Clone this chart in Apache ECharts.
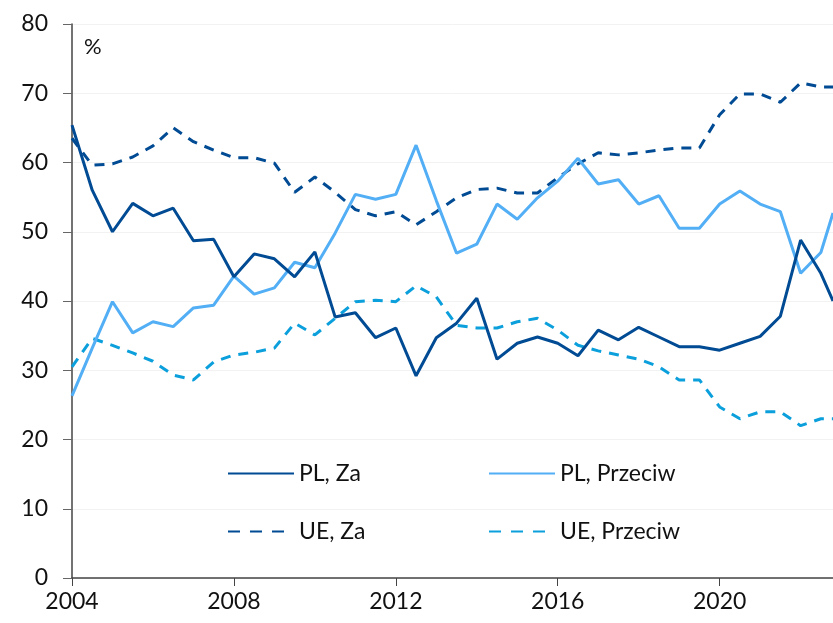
<!DOCTYPE html>
<html>
<head>
<meta charset="utf-8">
<script src="https://cdn.jsdelivr.net/npm/echarts@6/dist/echarts.min.js"></script>
<style>
  html, body { margin: 0; padding: 0; background: #fff; }
  #main { width: 833px; height: 623px; }
</style>
</head>
<body>
<div id="main"></div>
<script>
// polroczne odczyty, ostatni punkt na krawedzi wykresu
var years = [2004, 2004.5, 2005, 2005.5, 2006, 2006.5, 2007, 2007.5, 2008, 2008.5,
  2009, 2009.5, 2010, 2010.5, 2011, 2011.5, 2012, 2012.5, 2013, 2013.5,
  2014, 2014.5, 2015, 2015.5, 2016, 2016.5, 2017, 2017.5, 2018, 2018.5,
  2019, 2019.5, 2020, 2020.5, 2021, 2021.5, 2022, 2022.5, 2022.8];

var plZa = [65.4, 56.0, 50.0, 54.1, 52.3, 53.4, 48.7, 48.9, 43.5, 46.8,
  46.1, 43.5, 47.1, 37.7, 38.3, 34.7, 36.1, 29.2, 34.7, 36.8,
  40.4, 31.6, 33.9, 34.8, 33.9, 32.1, 35.8, 34.4, 36.2, 34.8,
  33.4, 33.4, 32.9, 33.9, 34.9, 37.8, 48.8, 44.0, 40.0];

var plPrzeciw = [26.3, 33.2, 39.9, 35.4, 37.0, 36.3, 39.0, 39.4, 43.6, 41.0,
  41.9, 45.6, 44.8, 49.8, 55.4, 54.7, 55.4, 62.5, 54.5, 46.9,
  48.2, 54.0, 51.8, 54.9, 57.3, 60.6, 56.9, 57.5, 54.0, 55.2,
  50.5, 50.5, 54.0, 55.9, 54.0, 52.9, 44.0, 47.0, 52.7];

var ueZa = [63.5, 59.6, 59.8, 60.8, 62.4, 65.0, 63.0, 61.8, 60.7, 60.7,
  59.9, 55.7, 57.9, 55.7, 53.2, 52.3, 52.9, 51.0, 52.9, 54.9,
  56.1, 56.3, 55.6, 55.6, 57.8, 59.8, 61.4, 61.1, 61.4, 61.8,
  62.1, 62.1, 66.9, 69.9, 69.9, 68.7, 71.5, 70.9, 70.9];

var uePrzeciw = [30.5, 34.6, 33.6, 32.5, 31.3, 29.3, 28.6, 31.2, 32.2, 32.6,
  33.2, 36.8, 35.1, 37.5, 39.9, 40.1, 39.9, 42.2, 40.6, 36.5,
  36.1, 36.1, 37.0, 37.5, 35.8, 33.6, 32.8, 32.2, 31.6, 30.5,
  28.6, 28.6, 24.7, 23.0, 24.0, 24.0, 22.0, 23.0, 23.0];

var yearTicks = [2004, 2008, 2012, 2016, 2020];

function pairs(vals) {
  return vals.map(function (v, i) { return [years[i], v]; });
}

var darkBlue = '#004b93';
var lightBlue = '#52aef5';
var cyan = '#0b9fdc';
var font = 'Lato, "Open Sans", sans-serif';

function legendAt(name, left, top, dashed) {
  return {
    data: [name],
    left: left,
    top: top,
    itemWidth: 66,
    itemHeight: 2,
    itemGap: 0,
    selectedMode: false,
    itemStyle: { opacity: 0 },
    lineStyle: dashed ? { type: [12, 10] } : {},
    textStyle: { fontFamily: font, fontSize: 23, color: '#111' }
  };
}

var myChart = echarts.init(document.getElementById('main'));

var option = {
  animation: false,
  backgroundColor: '#fff',
  grid: { left: 72, right: 0, top: 24, bottom: 45 },
  graphic: [{
    type: 'text',
    left: 84,
    top: 36,
    style: { text: '%', font: '22px ' + font, fill: '#111' }
  }],
  legend: [
    legendAt('PL, Za', 222, 457, false),
    legendAt('PL, Przeciw', 483, 457, false),
    legendAt('UE, Za', 222, 515, true),
    legendAt('UE, Przeciw', 483, 515, true)
  ],
  xAxis: {
    type: 'value',
    min: 2004,
    max: 2022.8,
    interval: 4,
    axisLine: { lineStyle: { color: '#444', width: 1.5 } },
    axisTick: { customValues: yearTicks, length: 8, lineStyle: { color: '#444' } },
    axisLabel: {
      customValues: yearTicks,
      margin: 12,
      fontFamily: font,
      fontSize: 23,
      color: '#111',
      formatter: function (v) { return String(Math.round(v)); }
    },
    splitLine: { show: false }
  },
  yAxis: {
    type: 'value',
    min: 0,
    max: 80,
    interval: 10,
    axisLine: { show: true, lineStyle: { color: '#444', width: 1.5 } },
    axisTick: { show: true, length: 9, lineStyle: { color: '#666' } },
    axisLabel: { margin: 24, fontFamily: font, fontSize: 23, color: '#111' },
    splitLine: { show: true, lineStyle: { color: '#f2f2f2', width: 1 } }
  },
  series: [
    {
      name: 'UE, Przeciw',
      type: 'line',
      showSymbol: false,
      symbol: 'none',
      data: pairs(uePrzeciw),
      lineStyle: { color: cyan, width: 3, type: [10, 8] },
      itemStyle: { color: cyan }
    },
    {
      name: 'UE, Za',
      type: 'line',
      showSymbol: false,
      symbol: 'none',
      data: pairs(ueZa),
      lineStyle: { color: darkBlue, width: 3, type: [10, 8] },
      itemStyle: { color: darkBlue }
    },
    {
      name: 'PL, Przeciw',
      type: 'line',
      showSymbol: false,
      symbol: 'none',
      data: pairs(plPrzeciw),
      lineStyle: { color: lightBlue, width: 3 },
      itemStyle: { color: lightBlue }
    },
    {
      name: 'PL, Za',
      type: 'line',
      showSymbol: false,
      symbol: 'none',
      data: pairs(plZa),
      lineStyle: { color: darkBlue, width: 3 },
      itemStyle: { color: darkBlue }
    }
  ]
};

myChart.setOption(option);
</script>
</body>
</html>
